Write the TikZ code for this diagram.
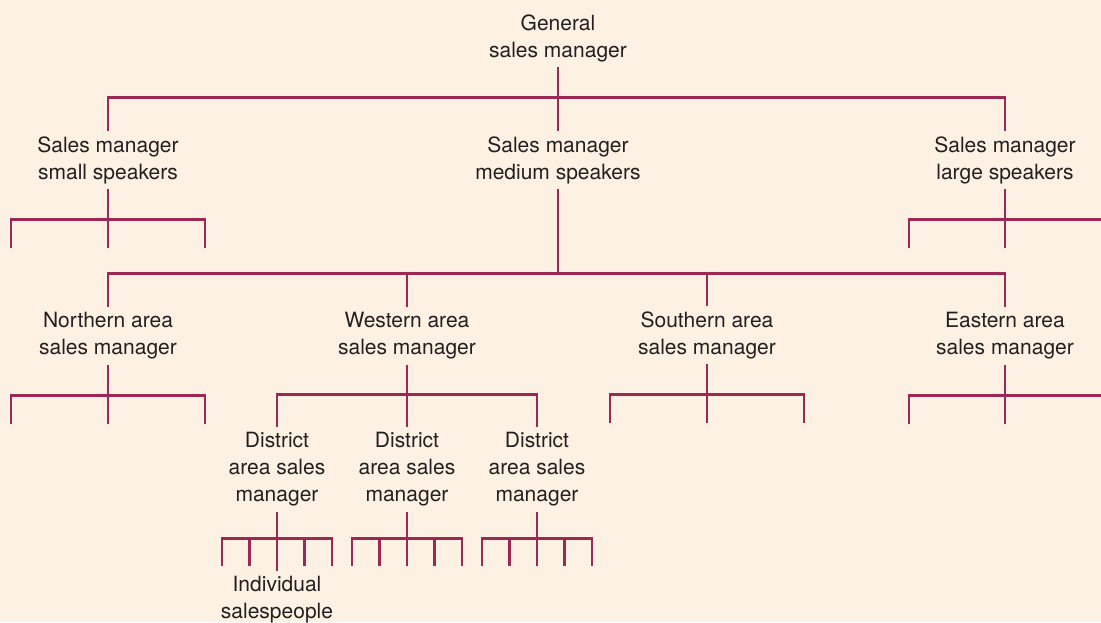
\documentclass[tikz,border=0pt]{standalone}
\usepackage{fontspec}
\setmainfont{TeX Gyre Heros}
\usetikzlibrary{calc}
\definecolor{creambg}{RGB}{253,241,227}
\definecolor{orgline}{RGB}{158,40,84}
\definecolor{inktext}{RGB}{35,31,32}
\tikzset{
  role/.style={font=\fontsize{21}{27}\selectfont, align=center, text=inktext, inner xsep=2pt, inner ysep=5pt},
  link/.style={draw=orgline, line width=2.8pt},
}
\begin{document}
\begin{tikzpicture}[x=1pt,y=-1pt]
  \useasboundingbox (0,0) rectangle (1101,622);
  \fill[creambg] (0,0) rectangle (1101,622);
  % managers
  \node[role] (gsm) at (558,38) {General\\sales manager};
  \node[role] (sms) at (108,160) {Sales manager\\small speakers};
  \node[role] (mms) at (558,160) {Sales manager\\medium speakers};
  \node[role] (lms) at (1005,160) {Sales manager\\large speakers};
  \node[role] (nam) at (108,336) {Northern area\\sales manager};
  \node[role] (wam) at (407,336) {Western area\\sales manager};
  \node[role] (sam) at (707,335) {Southern area\\sales manager};
  \node[role] (eam) at (1005,336) {Eastern area\\sales manager};
  \node[role] (dsa) at (277,469.5) {District\\area sales\\manager};
  \node[role] (dsb) at (407,469.5) {District\\area sales\\manager};
  \node[role] (dsc) at (537,469.5) {District\\area sales\\manager};
  \node[role] (ind) at (277,600) {Individual\\salespeople};
  % top level
  \path (gsm.south) ++(0,31) coordinate (gsmj);
  \draw[link] (sms.north) |- (gsmj) -| (lms.north);
  \draw[link] (gsm.south) -- (mms.north);
  % medium speakers to the areas
  \path (mms.south) ++(0,85) coordinate (mmsj);
  \draw[link] (nam.north) |- (mmsj) -| (eam.north);
  \draw[link] (mms.south) -- (mmsj);
  \draw[link] (wam.north) -- (wam.north |- mmsj);
  \draw[link] (sam.north) -- (sam.north |- mmsj);
  % three-way fans with open ends
  \foreach \p in {sms,nam,sam} {
    \path (\p.south) ++(0,30.5) coordinate (\p-j);
    \path (\p-j) ++(-97,29) coordinate (\p-l) ++(97,0) coordinate (\p-m) ++(97,0) coordinate (\p-r);
    \draw[link] (\p-l) |- (\p-j) -| (\p-r);
    \draw[link] (\p.south) -- (\p-m);
  }
  % fans cut by the right edge
  \foreach \p in {lms,eam} {
    \path (\p.south) ++(0,30.5) coordinate (\p-j);
    \path (\p-j) ++(-96,29) coordinate (\p-l) ++(96,0) coordinate (\p-m);
    \path (\p-j) ++(110,0) coordinate (\p-e);
    \draw[link] (\p-l) |- (\p-e);
    \draw[link] (\p.south) -- (\p-m);
  }
  % western area to districts
  \path (wam.south) ++(0,30) coordinate (wamj);
  \draw[link] (dsa.north) |- (wamj) -| (dsc.north);
  \draw[link] (wam.south) -- (dsb.north);
  % districts to salespeople
  \foreach \p in {dsa,dsb,dsc} {
    \path (\p.south) ++(0,27) coordinate (\p-j);
    \foreach \i/\dx in {1/-55,2/-27.5,3/27.5,4/55}
      \path (\p-j) ++(\dx,27) coordinate (\p-\i);
    \path (\p-j) ++(0,27) coordinate (\p-m);
    \draw[link] (\p-1) |- (\p-j) -| (\p-4);
    \draw[link] (\p-2) -- (\p-2 |- \p-j);
    \draw[link] (\p-3) -- (\p-3 |- \p-j);
  }
  \draw[link] (dsa.south) -- (ind.north);
  \draw[link] (dsb.south) -- (dsb-m);
  \draw[link] (dsc.south) -- (dsc-m);
\end{tikzpicture}
\end{document}
